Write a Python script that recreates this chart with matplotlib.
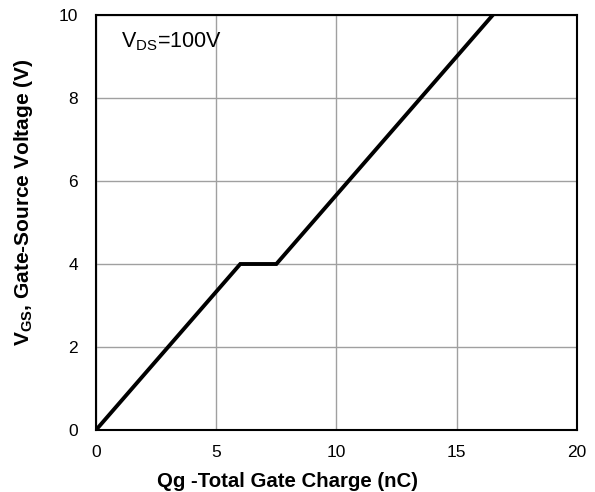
import numpy as np
import matplotlib.pyplot as plt

plt.rcParams['font.family'] = ['Liberation Sans', 'DejaVu Sans']

# Gate charge curve (nC, V)
qg = [0, 6.0, 7.5, 16.5]
vgs = [0, 4.0, 4.0, 10.0]
x_ticks = [0, 5, 10, 15, 20]
y_ticks = [0, 2, 4, 6, 8, 10]

fig = plt.figure(figsize=(5.95, 4.92), dpi=100)
ax = fig.add_axes([0.1613, 0.126, 0.8084, 0.8435])

ax.plot(qg, vgs, color='black', linewidth=2.8, solid_joinstyle='miter', zorder=3)

ax.set_xlim(0, 20)
ax.set_ylim(0, 10)
ax.set_xticks(x_ticks)
ax.set_yticks(y_ticks)
ax.grid(True, color='#a0a0a0', linewidth=1.0)
ax.tick_params(length=0, labelsize=12.5)
ax.tick_params(axis='x', pad=11)
ax.tick_params(axis='y', pad=13)
for s in ax.spines.values():
    s.set_linewidth(1.5)
    s.set_color('black')

xl = ax.set_xlabel('Qg -Total Gate Charge (nC)', fontsize=14.7, fontweight='bold')
xl.set_va('center')
ax.xaxis.set_label_coords(0.399, -0.125)
yl = ax.set_ylabel(r'V$_{\mathregular{GS}}$, Gate-Source Voltage (V)', fontsize=15,
                   fontweight='bold')
yl.set_va('center')
yl.set_ha('center')
ax.yaxis.set_label_coords(-0.15, 0.549)
ax.text(1.04, 9.35, r'V$_{\mathregular{DS}}$=100V', fontsize=15.5, va='center', ha='left')

fig.savefig('out.png', dpi=100)
